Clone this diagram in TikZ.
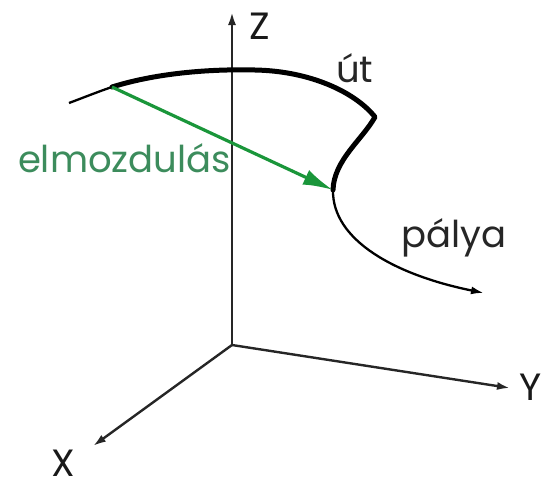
\documentclass[tikz,border=0pt]{standalone}
\usepackage{fontspec}
\setmainfont{Poppins}
\usetikzlibrary{arrows.meta}
\definecolor{arrowgreen}{RGB}{26,150,58}
\definecolor{textgreen}{RGB}{60,140,92}
\tikzset{
  axis/.style={line width=2.4pt, draw=black!85, -{Latex[length=13pt,width=8pt]}},
  lbl/.style={font=\fontsize{37}{40}\selectfont, inner sep=0pt, text=black!85},
  axlbl/.style={font=\fontsize{38}{40}\selectfont, inner sep=0pt, text=black!90},
  thinpath/.style={line width=2.3pt, draw=black},
  thickpath/.style={line width=5pt, draw=black, line cap=round, line join=round},
  disp/.style={line width=3.2pt, draw=arrowgreen, -{Latex[length=30pt,width=16pt]}},
}
\begin{document}
\begin{tikzpicture}[x=1pt,y=-1pt]
\useasboundingbox (0,0) rectangle (555,488);
% coordinates
\coordinate (O) at (232,345);
\coordinate (Zend) at (232,12);
\coordinate (Yend) at (510,388);
\coordinate (Xend) at (93,446);
\coordinate (P0) at (69,103);
\coordinate (P1) at (112,87);
\coordinate (Ptop) at (255,70);
\coordinate (Pc) at (375,117);
\coordinate (P2) at (333,190);
\coordinate (P3) at (484,293);
% axes
\draw[axis] (O) -- (Zend);
\draw[axis] (O) -- (Yend);
\draw[axis] (O) -- (Xend);
\node[axlbl] (zl) at (260,26) {Z};
\node[axlbl] (yl) at (531,387) {Y};
\node[axlbl] (xl) at (63,463) {X};
% trajectory
\draw[thinpath] (P0) .. controls (85,97) and (100,91) .. (P1);
\draw[thickpath] (P1) .. controls (160,72) and (215,69) .. (Ptop)
  .. controls (310,71) and (355,92) .. (Pc)
  .. controls (362,140) and (334,160) .. (P2);
\draw[thinpath, -{Latex[length=13pt,width=8pt]}] (P2) .. controls (332,240) and (395,275) .. (P3);
% displacement
\draw[disp] (P1) -- (P2);
% labels
\node[lbl, anchor=base west] (ut) at (336,82) {út};
\node[lbl, anchor=base west] (palya) at (401,247) {pálya};
\node[lbl, anchor=base east, text=textgreen] (elm) at (231,172) {elmozdulás};
\end{tikzpicture}
\end{document}
